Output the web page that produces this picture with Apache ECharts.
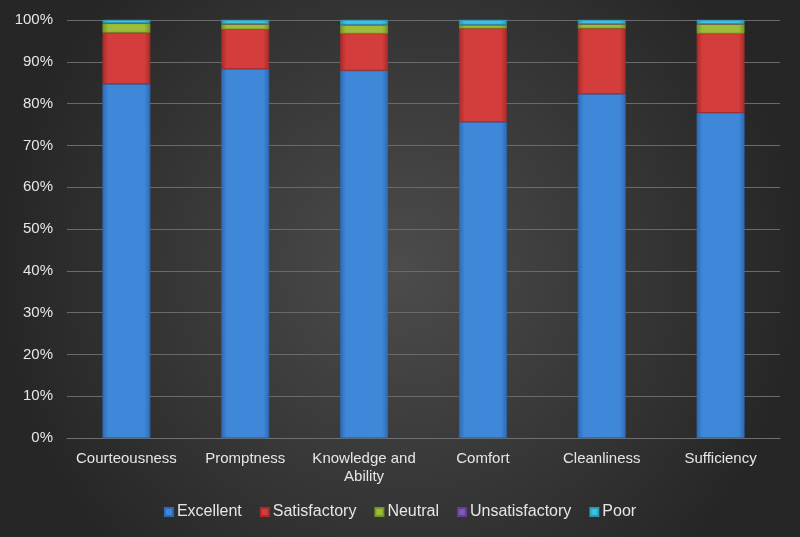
<!DOCTYPE html>
<html><head><meta charset="utf-8">
<script src="https://cdn.jsdelivr.net/npm/echarts@6/dist/echarts.min.js"></script>
<style>html,body{margin:0;padding:0;background:#333;}#c{width:800px;height:537px;}</style>
</head><body><div id="c"></div>
<script>
const categories = ['Courteousness','Promptness','Knowledge and\nAbility','Comfort','Cleanliness','Sufficiency'];
const excellent = [84.7, 88.3, 87.9, 75.6, 82.3, 77.8];
const satisfactory = [12.3, 9.5, 8.9, 22.4, 15.7, 19.0];
const neutral = [2.2, 1.2, 2.0, 0.8, 1.0, 2.2];
const unsatisfactory = [0.1, 0.1, 0.1, 0.1, 0.1, 0.1];
const poor = [0.7, 0.9, 1.1, 1.1, 0.9, 0.9];
const yTicks = [0,10,20,30,40,50,60,70,80,90,100];

const chart = echarts.init(document.getElementById('c'));
function grad(c1, c2){
  return new echarts.graphic.LinearGradient(0,0,1,0,[{offset:0,color:c2},{offset:0.12,color:c1},{offset:0.88,color:c1},{offset:1,color:c2}]);
}
const seriesDefs = [
  ['Excellent', excellent, '#3f87d9', '#2f6bb4'],
  ['Satisfactory', satisfactory, '#d33d3b', '#a92c2a'],
  ['Neutral', neutral, '#9dbd3a', '#7a9628'],
  ['Unsatisfactory', unsatisfactory, '#7f56b9', '#61408f'],
  ['Poor', poor, '#3ec0e2', '#2c98b5']
];
chart.setOption({
  backgroundColor: new echarts.graphic.RadialGradient(0.5,0.5,0.75,[{offset:0,color:'#4c4c4c'},{offset:1,color:'#262626'}]),
  textStyle:{fontFamily:'Liberation Sans, Arial, sans-serif'},
  grid:{left:67,right:20,top:20,bottom:99,containLabel:false},
  legend:{
    bottom:12, left:'center', itemWidth:8, itemHeight:8, itemGap:18,
    icon:'rect',
    textStyle:{color:'#e6e6e6', fontSize:16, padding:[0,0,0,-1]},
    data: seriesDefs.map(s=>({name:s[0], itemStyle:{color:s[2]}}))
  },
  xAxis:{
    type:'category', data:categories,
    axisLine:{show:true, lineStyle:{color:'#6e6e6e'}},
    axisTick:{show:false},
    axisLabel:{color:'#e6e6e6', fontSize:15, interval:0, lineHeight:18, margin:12}
  },
  yAxis:{
    type:'value', min:0, max:100, interval:10,
    axisLabel:{color:'#e6e6e6', fontSize:15, formatter:'{value}%', margin:14},
    axisLine:{show:false}, axisTick:{show:false},
    splitLine:{lineStyle:{color:'#6a6a6a', width:1.2}}
  },
  series: seriesDefs.map(s=>({
    name:s[0], type:'bar', stack:'total', data:s[1], barWidth:'40%',
    itemStyle:{color:grad(s[2], s[3]), borderColor:s[3], borderWidth:0.5}
  }))
});
</script></body></html>
